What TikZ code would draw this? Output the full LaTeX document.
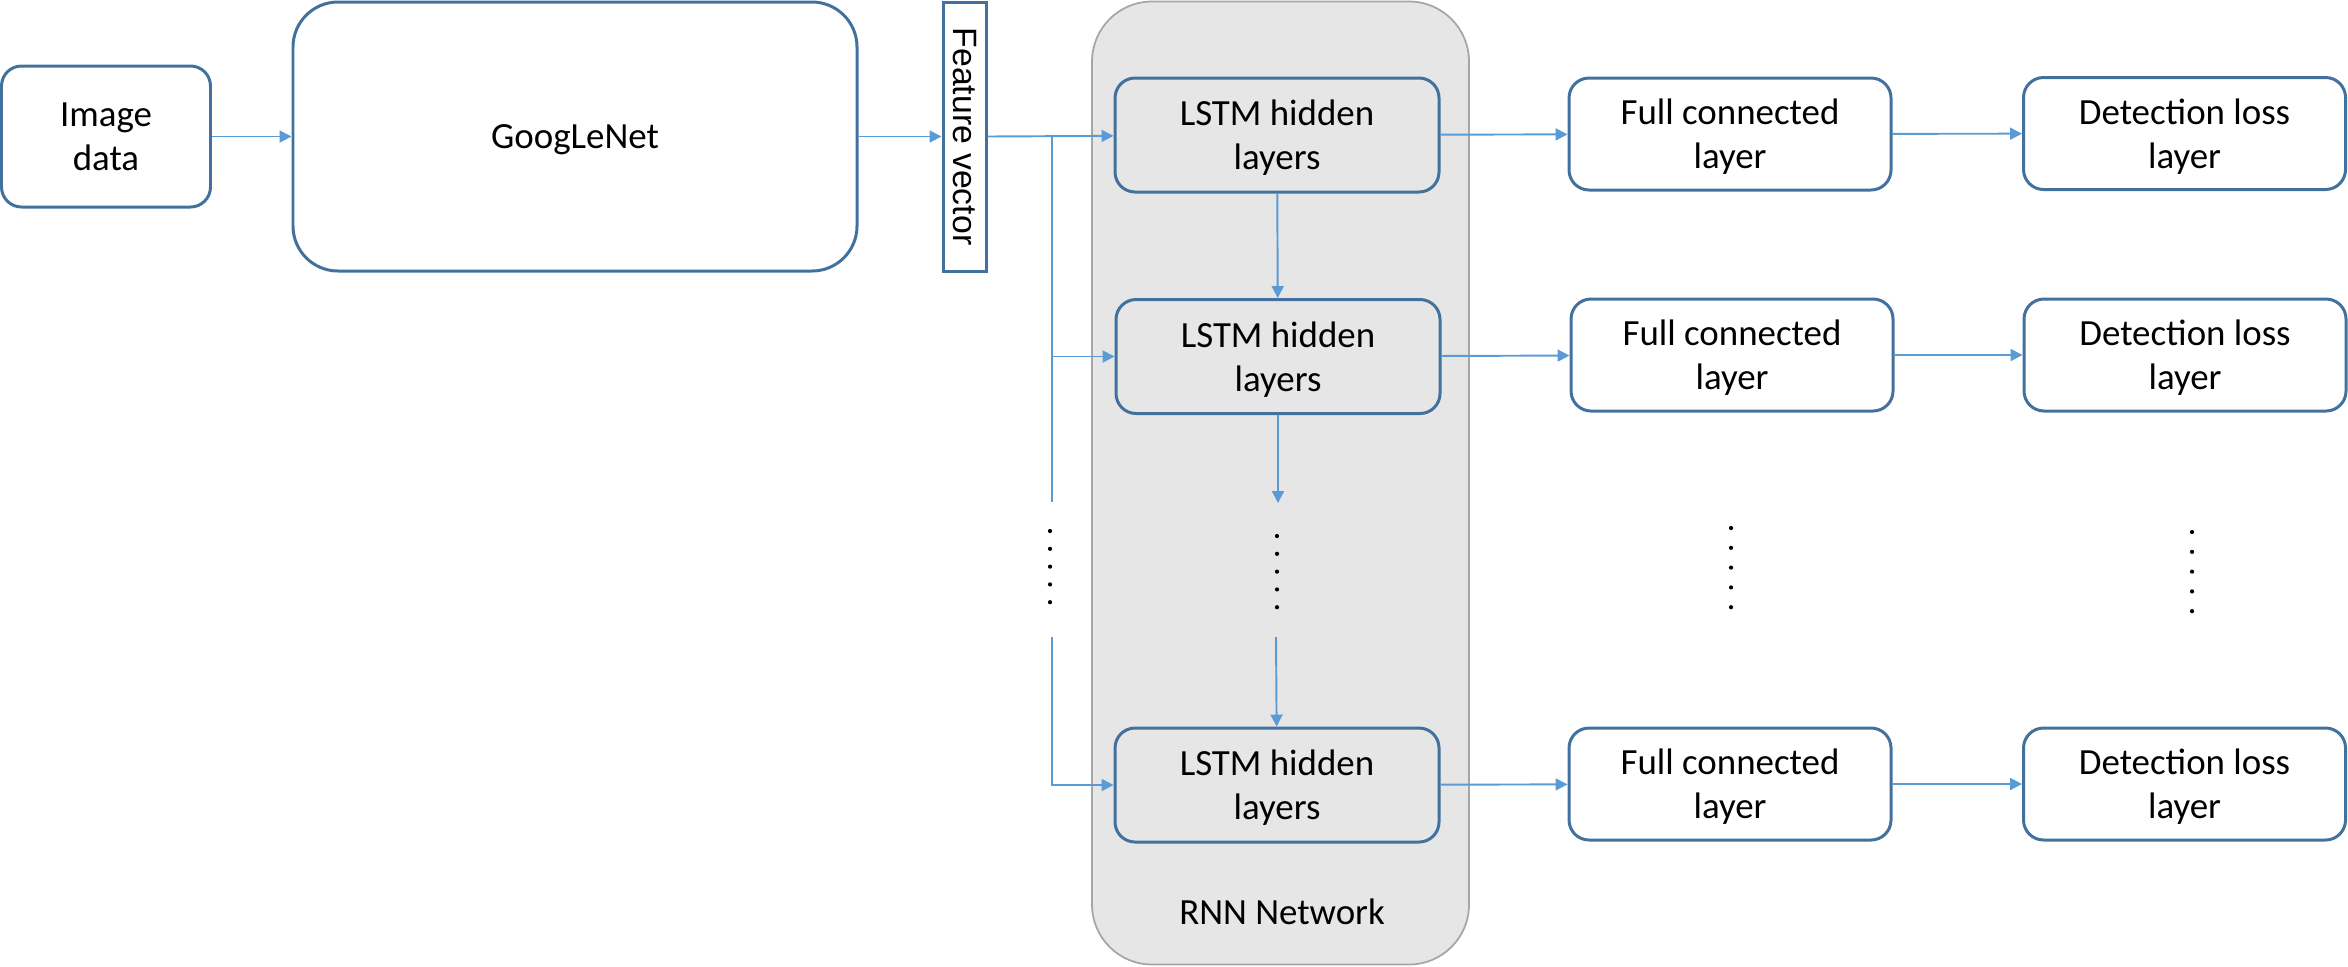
\documentclass[tikz,border=0pt]{standalone}
\usepackage{fontspec}
\setmainfont{Carlito}
\newfontfamily\fvfont{Liberation Sans}
\usepackage{xcolor}
\usepackage{tikz}
\usetikzlibrary{arrows.meta,positioning}
\definecolor{boxblue}{HTML}{41719C}
\definecolor{arrblue}{HTML}{5B9BD5}
\definecolor{rnngray}{HTML}{E6E6E6}
\definecolor{rnnedge}{HTML}{A6A6A6}

\begin{document}
\begin{tikzpicture}[
    blk/.style={draw=boxblue, line width=0.85pt, rounded corners=0.2cm, fill=white, align=center, inner sep=0pt, text depth=0pt, font=\fontsize{10.5}{12.6}\selectfont},
    lstmnode/.style={blk, fill=rnngray, minimum width=3.24cm, minimum height=1.14cm},
    layernode/.style={blk, minimum width=3.22cm, minimum height=1.12cm},
    fvbox/.style={draw=boxblue, line width=0.85pt, fill=white, inner sep=0pt, minimum width=2.69cm, minimum height=0.43cm, font=\fvfont\fontsize{9.6}{11}\selectfont},
    rnnbox/.style={draw=rnnedge, line width=0.5pt, fill=rnngray, rounded corners=0.6cm, minimum width=3.77cm, minimum height=9.63cm, inner sep=0pt},
    lbl/.style={font=\fontsize{10.5}{12.6}\selectfont},
    conn/.style={draw=arrblue, line width=0.55pt, -{Triangle[length=0.12cm, width=0.12cm]}},
    wire/.style={draw=arrblue, line width=0.55pt}
]
\useasboundingbox (0,0) rectangle (23.48,-9.66);

\node[rnnbox] (rnn) at (12.805,-4.83) {};
\node[lbl] (rnnlbl) at (12.82,-9.12) {RNN Network};

\node[blk, minimum width=2.09cm, minimum height=1.41cm] (img) at (1.06,-1.365) {Image\\data};
\node[blk, rounded corners=0.45cm, minimum width=5.64cm, minimum height=2.69cm] (goog) at (5.75,-1.365) {GoogLeNet};
\node[fvbox, rotate=-90] (fv) at (9.645,-1.365) {Feature vector};

\node[lstmnode] (l1) at (12.77,-1.35) {LSTM hidden\\layers};
\node[lstmnode] (l2) at (12.78,-3.565) {LSTM hidden\\layers};
\node[lstmnode] (l3) at (12.77,-7.85) {LSTM hidden\\layers};

\node[layernode] (f1) at (17.30,-1.34) {Full connected\\layer};
\node[layernode] (f2) at (17.32,-3.55) {Full connected\\layer};
\node[layernode] (f3) at (17.30,-7.84) {Full connected\\layer};

\node[layernode] (d1) at (21.845,-1.335) {Detection loss\\layer};
\node[layernode] (d2) at (21.85,-3.55) {Detection loss\\layer};
\node[layernode] (d3) at (21.845,-7.84) {Detection loss\\layer};

\coordinate (br1) at (10.52,-1.36);
\coordinate (br2) at (10.52,-5.02);
\coordinate (br3) at (10.52,-6.37);
\coordinate (m1) at (12.78,-5.03);
\coordinate (m2) at (12.76,-6.37);

\draw[conn] (img) -- (goog); \draw[conn] (goog) -- (fv.south);
\draw[conn] (fv.north) -- (l1);
\draw[conn] (br1) |- (l2); \draw[wire] (br1) -- (br2); \draw[conn] (br3) |- (l3);
\draw[conn] (l1) -- (l2); \draw[conn] (l2) -- (m1); \draw[conn] (m2) -- (l3);
\draw[conn] (l1) -- (f1); \draw[conn] (l2) -- (f2); \draw[conn] (l3) -- (f3);
\draw[conn] (f1) -- (d1); \draw[conn] (f2) -- (d2); \draw[conn] (f3) -- (d3);

\foreach \k in {0,...,4} {
  \fill (10.50,-5.31-0.178*\k) circle (0.021);
  \fill (12.77,-5.36-0.178*\k) circle (0.021);
  \fill (17.31,-5.28-0.198*\k) circle (0.021);
  \fill (21.92,-5.32-0.198*\k) circle (0.021);
}
\end{tikzpicture}
\end{document}
